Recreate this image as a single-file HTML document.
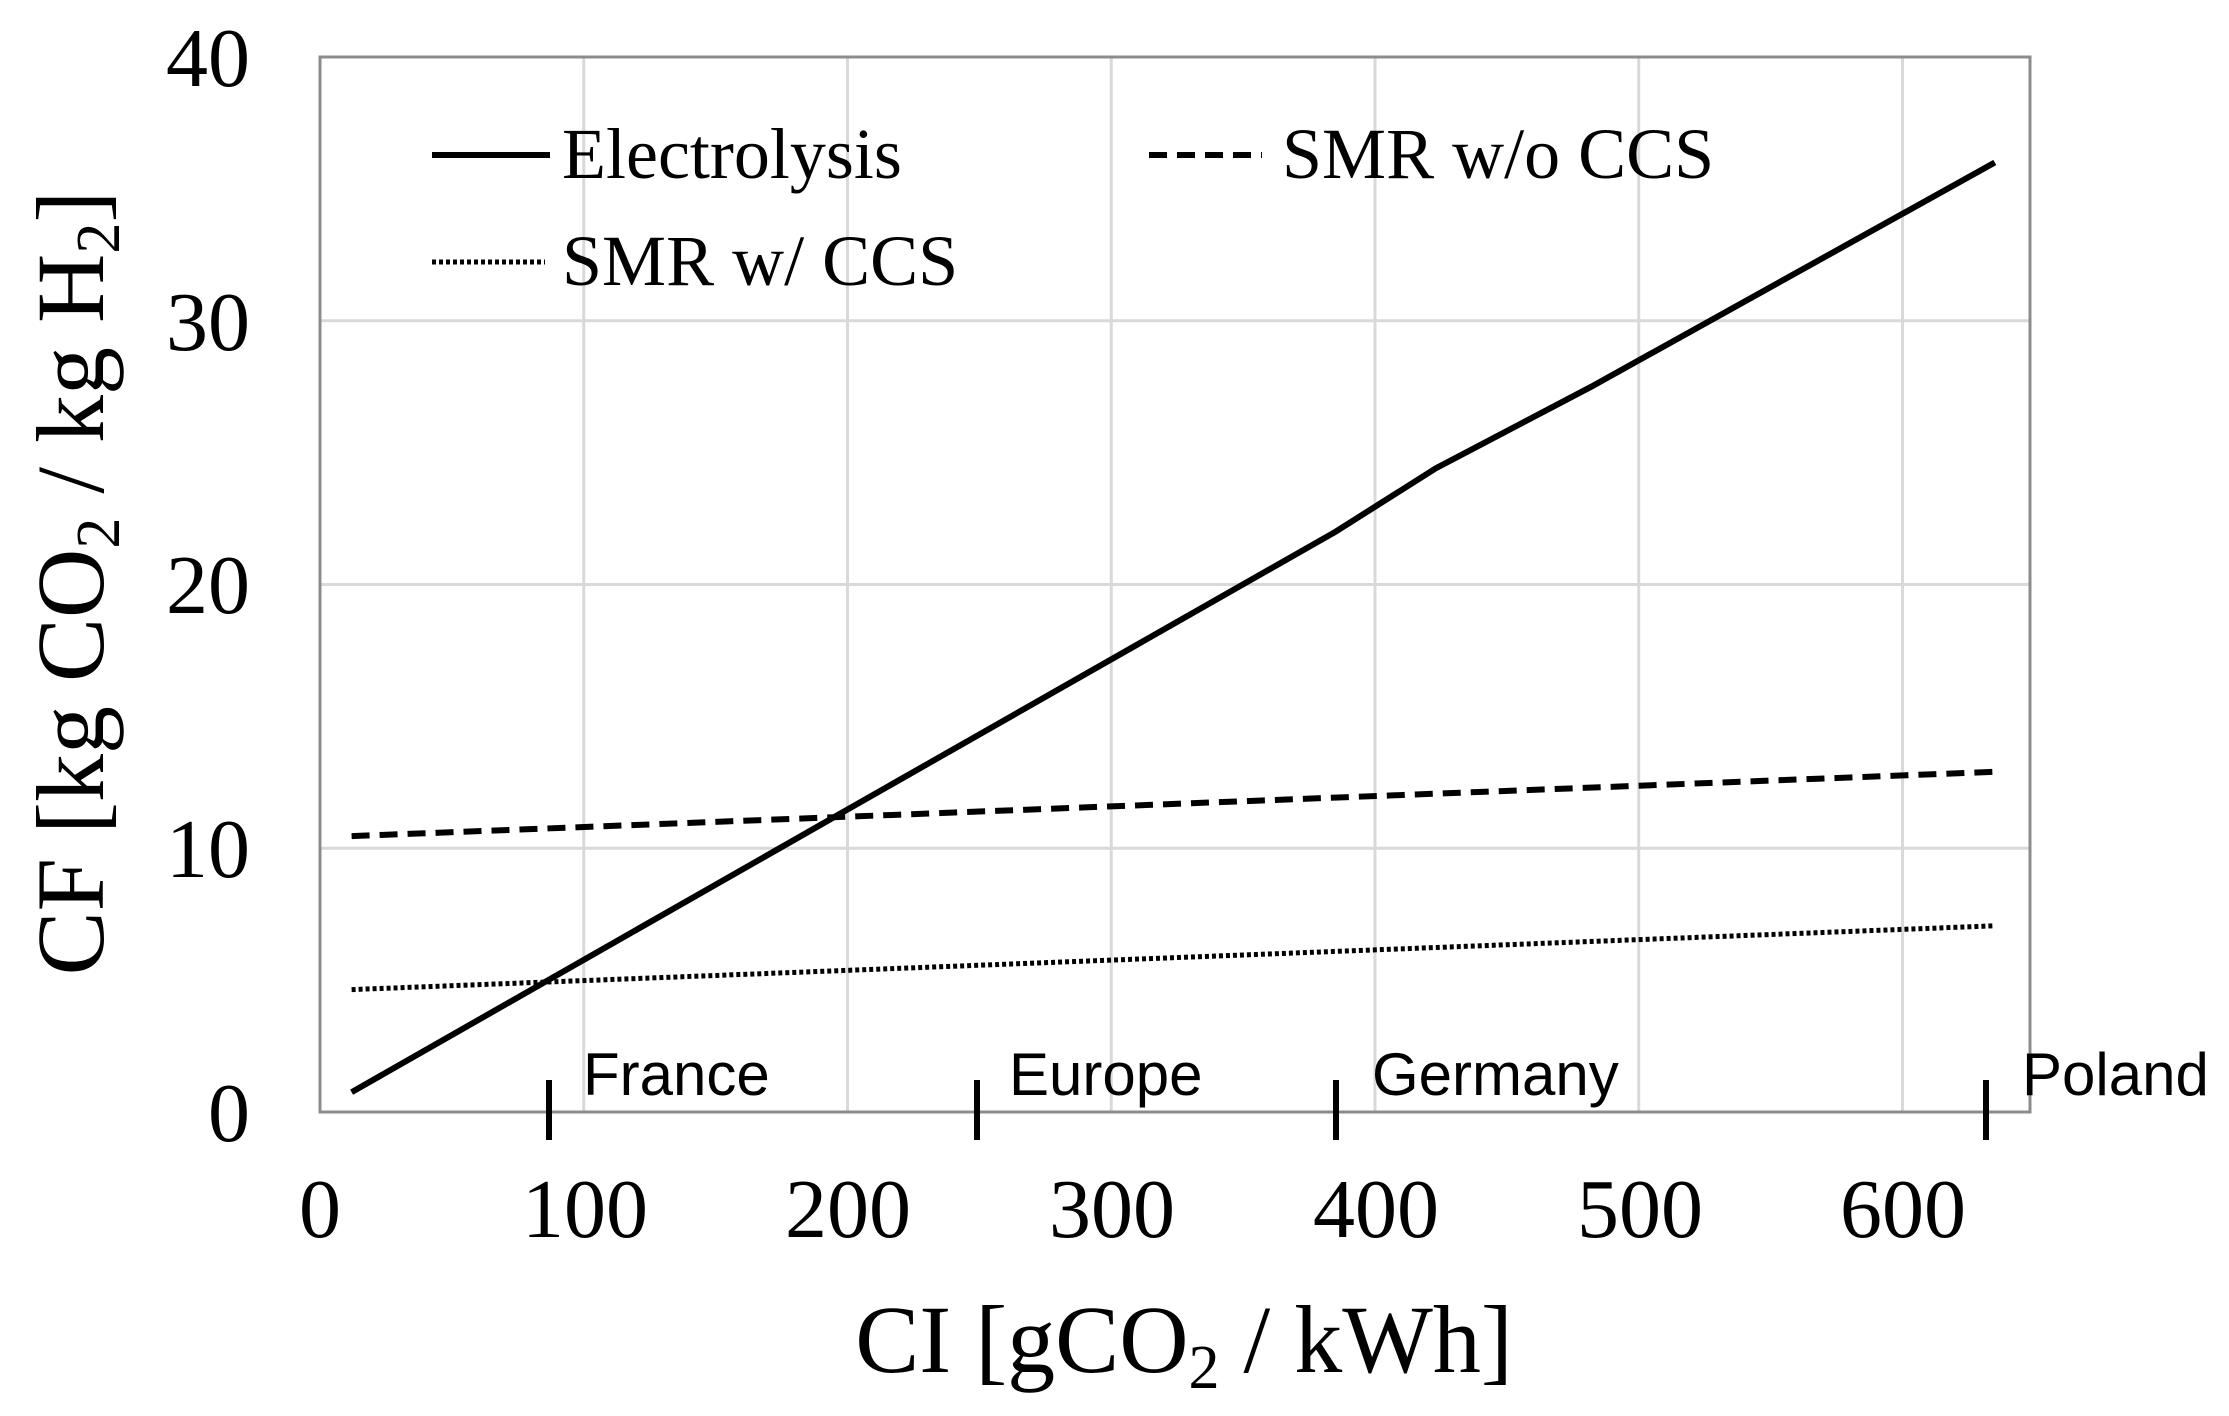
<!DOCTYPE html>
<html><head><meta charset="utf-8"><style>
html,body{margin:0;padding:0;background:#fff;}
svg{display:block;}
.t{font-family:"Liberation Serif",serif;fill:#000;}
.s{font-family:"Liberation Sans",sans-serif;fill:#000;}
</style></head><body>
<svg width="2229" height="1416" viewBox="0 0 2229 1416" xmlns="http://www.w3.org/2000/svg">
<rect width="2229" height="1416" fill="#fff"/>
<g stroke="#d9d9d9" stroke-width="3">
<line x1="583.75" y1="57" x2="583.75" y2="1112"/>
<line x1="847.5" y1="57" x2="847.5" y2="1112"/>
<line x1="1111.25" y1="57" x2="1111.25" y2="1112"/>
<line x1="1375" y1="57" x2="1375" y2="1112"/>
<line x1="1638.75" y1="57" x2="1638.75" y2="1112"/>
<line x1="1902.5" y1="57" x2="1902.5" y2="1112"/>
<line x1="320" y1="320.75" x2="2030" y2="320.75"/>
<line x1="320" y1="584.5" x2="2030" y2="584.5"/>
<line x1="320" y1="848.25" x2="2030" y2="848.25"/>
</g>
<rect x="320" y="57" width="1710" height="1055" fill="none" stroke="#8c8c8c" stroke-width="3"/>
<g fill="none" stroke="#000" stroke-linecap="butt">
<polyline stroke-width="6" points="351.6,1092.2 839.6,814 1335.4,531.8 1435.7,468.4 1591.3,386.7 1994.8,162.5"/>
<line stroke-width="6" stroke-dasharray="18,10" x1="351.6" y1="836.1" x2="1994.8" y2="771.8"/>
<line stroke-width="5" stroke-dasharray="4,3" x1="351.6" y1="989.6" x2="1994.8" y2="925.8"/>
<line stroke-width="6" x1="432" y1="155" x2="550" y2="155"/>
<line stroke-width="6" stroke-dasharray="18,10" x1="1149" y1="155" x2="1262" y2="155"/>
<line stroke-width="5" stroke-dasharray="4,3" x1="432" y1="262" x2="545" y2="262"/>
<line stroke-width="6" x1="549" y1="1080" x2="549" y2="1140"/>
<line stroke-width="6" x1="977" y1="1080" x2="977" y2="1140"/>
<line stroke-width="6" x1="1336" y1="1080" x2="1336" y2="1140"/>
<line stroke-width="6" x1="1986" y1="1080" x2="1986" y2="1140"/>
</g>
<g class="t" font-size="72">
<text x="562" y="178">Electrolysis</text>
<text x="1282" y="178">SMR w/o CCS</text>
<text x="562" y="285">SMR w/ CCS</text>
</g>
<g class="s" font-size="60">
<text x="583" y="1095">France</text>
<text x="1009" y="1095">Europe</text>
<text x="1372" y="1095">Germany</text>
<text x="2022" y="1095">Poland</text>
</g>
<g class="t" font-size="84" text-anchor="end">
<text x="250" y="86">40</text>
<text x="250" y="350">30</text>
<text x="250" y="613">20</text>
<text x="250" y="877">10</text>
<text x="250" y="1141">0</text>
</g>
<g class="t" font-size="84" text-anchor="middle">
<text x="320" y="1237">0</text>
<text x="585" y="1237">100</text>
<text x="848" y="1237">200</text>
<text x="1112" y="1237">300</text>
<text x="1376" y="1237">400</text>
<text x="1640" y="1237">500</text>
<text x="1903" y="1237">600</text>
</g>
<text class="t" font-size="96" x="1184" y="1372" text-anchor="middle">CI [gCO<tspan font-size="62" dy="16">2</tspan><tspan dy="-16"> / kWh]</tspan></text>
<text class="t" font-size="96" transform="translate(103,583) rotate(-90)" text-anchor="middle">CF [kg CO<tspan font-size="62" dy="16">2</tspan><tspan dy="-16"> / kg H</tspan><tspan font-size="62" dy="16">2</tspan><tspan dy="-16">]</tspan></text>
</svg>
</body></html>
